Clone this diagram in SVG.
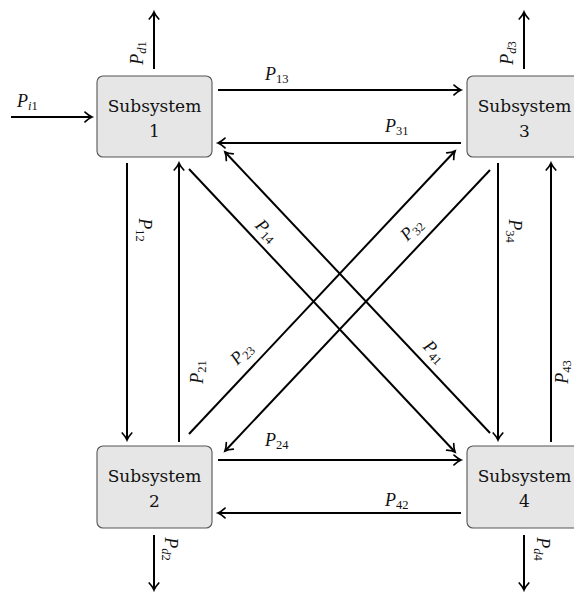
<svg xmlns="http://www.w3.org/2000/svg" width="574" height="592" viewBox="0 0 574 592">
<style>
.box{fill:#e6e6e6;stroke:#555;stroke-width:1.1}
.bt{font-family:"DejaVu Serif",serif;font-size:17px;text-anchor:middle;fill:#111}
.ln{stroke:#000;stroke-width:2;fill:none;marker-end:url(#arr)}
.lb{font-family:"Liberation Serif",serif;font-size:18px;fill:#111}
.lb .P{font-style:italic}
.lb .s{font-size:12.5px}
.lb .i{font-style:italic}
.c{text-anchor:middle}
</style>
<defs>
<marker id="arr" markerUnits="userSpaceOnUse" markerWidth="20" markerHeight="20" viewBox="-10 -10 20 20" refX="0" refY="0" orient="auto" overflow="visible">
<path d="M-7,-4.8 C-4,-2 -1.5,-0.6 0,0 C-1.5,0.6 -4,2 -7,4.8" stroke="#000" stroke-width="1.7" fill="none" stroke-linecap="round"/>
</marker>
</defs>
<g id="connectors">
<line class="ln" x1="11" y1="117" x2="92" y2="117"/>
<line class="ln" x1="154" y1="69" x2="154" y2="12"/>
<line class="ln" x1="524" y1="69" x2="524" y2="12"/>
<line class="ln" x1="154" y1="535" x2="154" y2="590"/>
<line class="ln" x1="524" y1="535" x2="524" y2="590"/>
<line class="ln" x1="218" y1="90" x2="461" y2="90"/>
<line class="ln" x1="461" y1="143" x2="218" y2="143"/>
<line class="ln" x1="218" y1="460" x2="461" y2="460"/>
<line class="ln" x1="461" y1="513" x2="218" y2="513"/>
<line class="ln" x1="127" y1="163" x2="127" y2="440"/>
<line class="ln" x1="179" y1="442" x2="179" y2="163"/>
<line class="ln" x1="498" y1="163" x2="498" y2="440"/>
<line class="ln" x1="551" y1="442" x2="551" y2="163"/>
<line class="ln" x1="189" y1="169" x2="455" y2="452"/>
<line class="ln" x1="490" y1="433" x2="225" y2="152"/>
<line class="ln" x1="189" y1="434" x2="455" y2="151"/>
<line class="ln" x1="490" y1="170" x2="225" y2="451"/>
</g>
<g id="labels">
<text class="lb" x="17" y="107"><tspan class="P">P</tspan><tspan class="s i" dy="3">i</tspan><tspan class="s">1</tspan></text>
<text class="lb" x="265" y="80"><tspan class="P">P</tspan><tspan class="s" dy="3">13</tspan></text>
<text class="lb" x="385" y="132"><tspan class="P">P</tspan><tspan class="s" dy="3">31</tspan></text>
<text class="lb" x="265" y="446"><tspan class="P">P</tspan><tspan class="s" dy="3">24</tspan></text>
<text class="lb" x="385" y="506"><tspan class="P">P</tspan><tspan class="s" dy="3">42</tspan></text>
<text class="lb c" transform="translate(138,53) rotate(-90)" y="5"><tspan class="P">P</tspan><tspan class="s i" dy="3">d</tspan><tspan class="s">1</tspan></text>
<text class="lb c" transform="translate(508,53) rotate(-90)" y="5"><tspan class="P">P</tspan><tspan class="s i" dy="3">d</tspan><tspan class="s">3</tspan></text>
<text class="lb c" transform="translate(170,549) rotate(90)" y="5"><tspan class="P">P</tspan><tspan class="s i" dy="3">d</tspan><tspan class="s">2</tspan></text>
<text class="lb c" transform="translate(542,549) rotate(90)" y="5"><tspan class="P">P</tspan><tspan class="s i" dy="3">d</tspan><tspan class="s">4</tspan></text>
<text class="lb c" transform="translate(144,230) rotate(90)" y="5"><tspan class="P">P</tspan><tspan class="s" dy="3">12</tspan></text>
<text class="lb c" transform="translate(514,231) rotate(90)" y="5"><tspan class="P">P</tspan><tspan class="s" dy="3">34</tspan></text>
<text class="lb c" transform="translate(198,372) rotate(-90)" y="5"><tspan class="P">P</tspan><tspan class="s" dy="3">21</tspan></text>
<text class="lb c" transform="translate(563,372) rotate(-90)" y="5"><tspan class="P">P</tspan><tspan class="s" dy="3">43</tspan></text>
<text class="lb c" transform="translate(266,231) rotate(45)" y="5"><tspan class="P">P</tspan><tspan class="s" dy="3">14</tspan></text>
<text class="lb c" transform="translate(412,230) rotate(-45)" y="5"><tspan class="P">P</tspan><tspan class="s" dy="3">32</tspan></text>
<text class="lb c" transform="translate(242,354) rotate(-45)" y="5"><tspan class="P">P</tspan><tspan class="s" dy="3">23</tspan></text>
<text class="lb c" transform="translate(434,352) rotate(45)" y="5"><tspan class="P">P</tspan><tspan class="s" dy="3">41</tspan></text>
</g>
<g id="subsystem1">
<rect class="box" x="97" y="76" width="115" height="81" rx="6"/>
<text class="bt" x="154.5" y="112">Subsystem</text>
<text class="bt" x="154.5" y="137">1</text>
</g>
<g id="subsystem2">
<rect class="box" x="97" y="446" width="115" height="82" rx="6"/>
<text class="bt" x="154.5" y="482">Subsystem</text>
<text class="bt" x="154.5" y="507">2</text>
</g>
<g id="subsystem3">
<rect class="box" x="467" y="76" width="115" height="81" rx="6"/>
<text class="bt" x="524.5" y="112">Subsystem</text>
<text class="bt" x="524.5" y="137">3</text>
</g>
<g id="subsystem4">
<rect class="box" x="467" y="446" width="115" height="82" rx="6"/>
<text class="bt" x="524.5" y="482">Subsystem</text>
<text class="bt" x="524.5" y="507">4</text>
</g>
</svg>
